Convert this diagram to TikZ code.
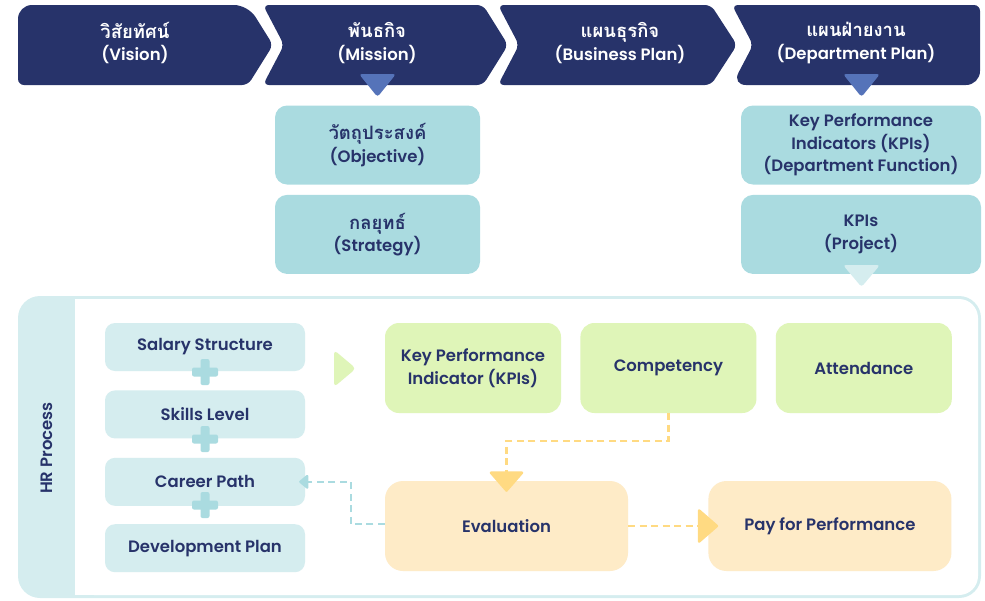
\documentclass[tikz,border=0pt]{standalone}
\usepackage{fontspec}
\setmainfont{Poppins}[UprightFont=*-SemiBold,BoldFont=*-Bold]
\newfontfamily\thaifont{Loma}[Script=Thai,Scale=1.12]
\usetikzlibrary{arrows.meta,positioning}
\definecolor{navy}{HTML}{27336A}
\definecolor{triblue}{HTML}{5573B9}
\definecolor{tealmid}{HTML}{AADBE0}
\definecolor{teallight}{HTML}{D5EDEF}
\definecolor{greenbox}{HTML}{DFF5B8}
\definecolor{yellowbox}{HTML}{FEEBC7}
\definecolor{yellowtip}{HTML}{FFDA82}

\begin{document}
\begin{tikzpicture}[x=1pt,y=-1pt,
  lbl/.style={align=center,text=navy,inner sep=2pt,
    font=\fontsize{16.5}{22.5}\selectfont},
  toplbl/.style={lbl,text=white},
  objbox/.style={lbl,fill=tealmid,rounded corners=12pt,
    minimum width=205pt,minimum height=79pt},
  kpibox/.style={objbox,minimum width=240pt},
  hrbox/.style={lbl,fill=teallight,rounded corners=10pt,
    minimum width=200pt,minimum height=48pt},
  factorbox/.style={lbl,fill=greenbox,rounded corners=14pt,
    minimum width=176pt,minimum height=90pt},
  resultbox/.style={lbl,fill=yellowbox,rounded corners=18pt,
    minimum width=243pt,minimum height=90pt},
  plusbar/.style={fill=tealmid,rounded corners=2pt},
  flowy/.style={draw=yellowtip,line width=2.5pt,dash pattern=on 7pt off 4.5pt,
    -{Triangle[width=36pt,length=21pt,round]}},
  flowt/.style={draw=tealmid,line width=2.5pt,dash pattern=on 7pt off 4.5pt,
    -{Triangle[width=16pt,length=10pt,round]}},
  node distance=19pt]
\useasboundingbox (0,0) rectangle (985,600);

% top chevrons
\fill[navy] (18,45) [rounded corners=14pt] -- (18,5) -- (248,5)
  [rounded corners=6pt] -- (273,45) -- (248,85) -- (18,85)
  [rounded corners=14pt] -- cycle;
\fill[navy,rounded corners=6pt] (263,5) -- (483,5) -- (508,45) -- (483,85)
  -- (263,85) -- (284,45) -- cycle;
\fill[navy,rounded corners=6pt] (498,5) -- (711,5) -- (737,45) -- (711,85)
  -- (498,85) -- (519,45) -- cycle;
\fill[navy] (753,45) [rounded corners=6pt] -- (732,5) -- (980,5)
  [rounded corners=14pt] -- (980,85) -- (732,85)
  [rounded corners=6pt] -- cycle;

\node[toplbl] (vision) at (135,43) {{\thaifont\bfseries วิสัยทัศน์}\\(Vision)};
\node[toplbl] (mission) at (377,43) {{\thaifont\bfseries พันธกิจ}\\(Mission)};
\node[toplbl] (business) at (620,43) {{\thaifont\bfseries แผนธุรกิจ}\\(Business Plan)};
\node[toplbl] (deptplan) at (856,43) {{\thaifont\bfseries แผนฝ่ายงาน}\\(Department Plan)};

\fill[triblue,rounded corners=3pt] (359,74) -- (396,74) -- (377.5,97) -- cycle;
\fill[triblue,rounded corners=3pt] (843,74) -- (880,74) -- (861.5,97) -- cycle;

% objective and KPI columns
\node[objbox] (objective) at (377.5,145) {{\thaifont\bfseries วัตถุประสงค์}\\(Objective)};
\node[objbox,below=10pt of objective] (strategy) {{\thaifont\bfseries กลยุทธ์}\\(Strategy)};
\node[kpibox] (kpidept) at (861,145) {Key Performance\\Indicators (KPIs)\\(Department Function)};
\node[kpibox,below=10pt of kpidept] (kpiproject) {KPIs\\(Project)};
\fill[teallight,rounded corners=3pt] (843,265) -- (880,265) -- (861.5,287) -- cycle;

% HR process frame
\fill[teallight,rounded corners=22pt] (18,296) rectangle (981,598);
\fill[white,rounded corners=19pt] (75,299) rectangle (978,595);
\fill[white] (75,299) rectangle (110,595);
\node[lbl,rotate=90] (hrprocess) at (47,448) {HR Process};

\node[hrbox] (salary) at (205,347) {Salary Structure};
\node[hrbox,below=of salary] (skills) {Skills Level};
\node[hrbox,below=of skills] (career) {Career Path};
\node[hrbox,below=18pt of career] (devplan) {Development Plan};
\fill[plusbar] (192,367.5) rectangle (218,376.5);
\fill[plusbar] (200.5,359) rectangle (209.5,385);
\fill[plusbar] (192,434.5) rectangle (218,443.5);
\fill[plusbar] (200.5,426) rectangle (209.5,452);
\fill[plusbar] (192,500.5) rectangle (218,509.5);
\fill[plusbar] (200.5,492) rectangle (209.5,518);

\fill[greenbox,rounded corners=4pt] (334,350) -- (356,368.5) -- (334,387) -- cycle;

\node[factorbox] (kpis) at (473,368) {Key Performance\\Indicator (KPIs)};
\node[factorbox,right=of kpis] (competency) {Competency};
\node[factorbox,right=of competency] (attendance) {Attendance};

\node[resultbox] (evaluation) at (506.5,526) {Evaluation};
\node[resultbox,right=80pt of evaluation] (pay) {Pay for Performance};

\draw[flowy,shorten >=-11pt] (competency.south) -- ++(0,28) -| (evaluation.north);
\draw[flowy,shorten >=-10pt] (evaluation.east) -- (pay.west);
\draw[flowt,shorten >=-6pt] ([yshift=2pt]evaluation.west) -- ++(-34,0) |- (career.east);
\end{tikzpicture}
\end{document}
